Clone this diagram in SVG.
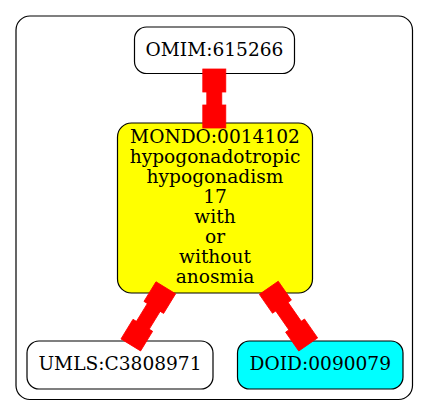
<svg xmlns="http://www.w3.org/2000/svg" width="429" height="416" viewBox="0 0 429 416">
<style>
.node rect{stroke:#000;stroke-width:1.2}
text{font-family:"DejaVu Serif","Liberation Serif",serif;font-size:18.6px;text-anchor:middle;fill:#000}
.edge{fill:#f00;stroke:#f00;stroke-width:0.8}
</style>
<defs>
<g id="box"><rect x="0" y="-11.5" width="23" height="23"/></g>
</defs>
<rect x="16" y="16" width="396.5" height="383.5" rx="14" fill="#fff" stroke="#000" stroke-width="1.2"/>
<g id="omim" class="node"><rect x="134.5" y="27" width="160" height="46.5" rx="12" fill="#fff"/><text x="214.5" y="56">OMIM:615266</text></g>
<g id="mondo" class="node"><rect x="117.5" y="123" width="195" height="170" rx="14" fill="#ff0"/>
<text x="215" y="142.7">MONDO:0014102</text>
<text x="215" y="162.7">hypogonadotropic</text>
<text x="215" y="182.7">hypogonadism</text>
<text x="215" y="202.7">17</text>
<text x="215" y="222.7">with</text>
<text x="215" y="242.7">or</text>
<text x="215" y="262.7">without</text>
<text x="215" y="282.7">anosmia</text></g>
<g id="umls" class="node"><rect x="27" y="341" width="186" height="48" rx="12" fill="#fff"/><text x="120" y="370">UMLS:C3808971</text></g>
<g id="doid" class="node"><rect x="237.5" y="341" width="165.5" height="48" rx="12" fill="#0ff"/><text x="320.3" y="370">DOID:0090079</text></g>
<g id="connectors">
<g class="edge" transform="translate(214.3,69) rotate(90)"><use href="#box"/><rect x="22" y="-7.5" width="15" height="15"/><use href="#box" x="36"/></g>
<g class="edge" transform="translate(165.8,287.8) rotate(121.5)"><use href="#box"/><rect x="22" y="-7.5" width="23" height="15"/><use href="#box" x="44"/></g>
<g class="edge" transform="translate(268.8,287.8) rotate(55.2)"><use href="#box"/><rect x="22" y="-7.5" width="25" height="15"/><use href="#box" x="46"/></g>
</g>
</svg>
